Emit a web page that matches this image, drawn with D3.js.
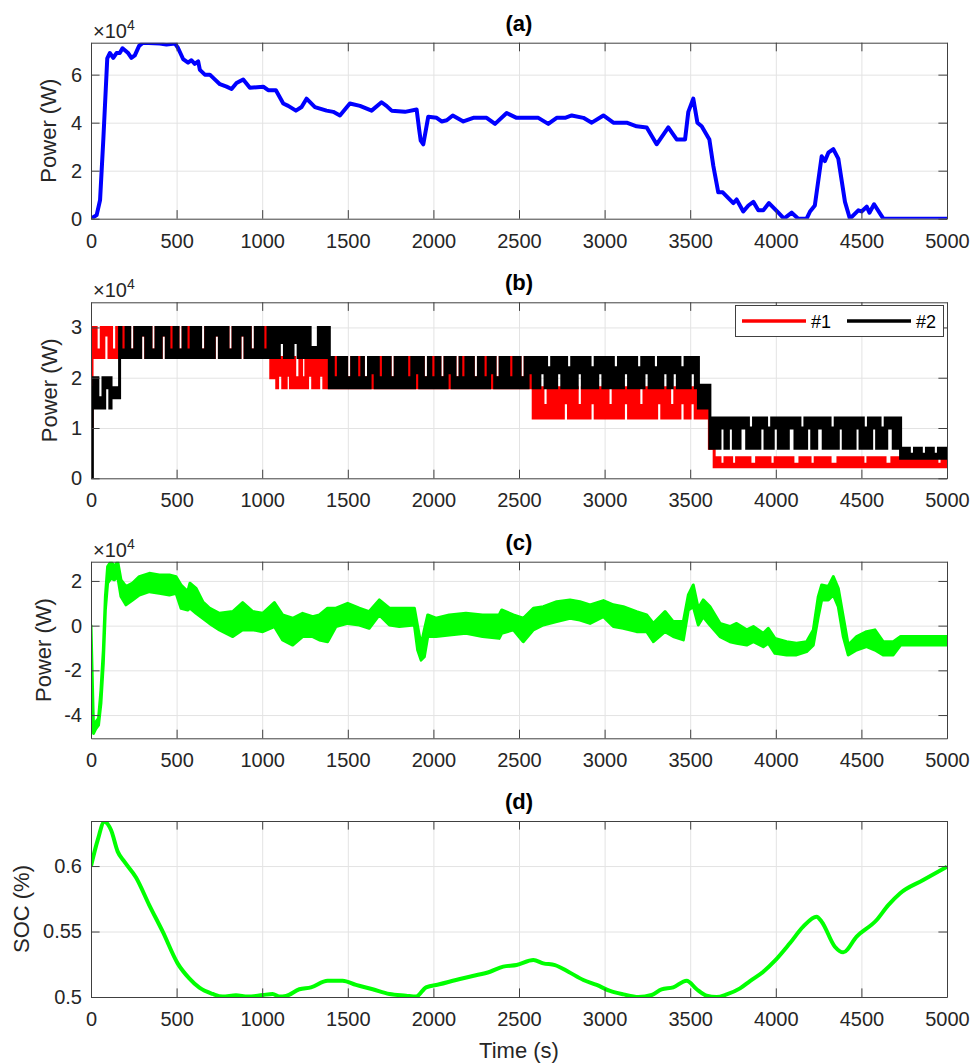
<!DOCTYPE html>
<html lang="en">
<head>
  <meta charset="UTF-8">
  <title>Power and SOC</title>
  <script src="https://cdn.jsdelivr.net/npm/d3@7"></script>
  <style>
    body { margin: 0; background: #ffffff; }
    svg { display: block; font-family: "Liberation Sans", Arial, Helvetica, sans-serif; }
    .tick text { fill: #262626; font-size: 20px; }
    .frame line, .frame path { stroke: #404040; }
    .grid line { stroke: #e3e3e3; }
    .grid path { display: none; }
    .title { font-weight: bold; font-size: 22px; fill: #000; }
    .label { font-size: 22px; fill: #262626; }
  </style>
</head>
<body>
<div class="chart"></div>
<script>
// ---- data (power in units of 1e4 W) ----
const timeTicks = [0, 500, 1000, 1500, 2000, 2500, 3000, 3500, 4000, 4500, 5000];
const ticksA = [0, 2, 4, 6];
const ticksB = [0, 1, 2, 3];
const ticksC = [-4, -2, 0, 2];
const ticksD = [0.5, 0.55, 0.6];

// (a) load power [t, P]
const loadPower = [
  [0, 0], [33, 0.15], [53, 0.78], [72, 3.3], [95, 6.68], [110, 6.9], [130, 6.7], [149, 6.9],
  [168, 6.9], [184, 7.1], [217, 6.9], [236, 6.7], [256, 6.8], [281, 7.2], [304, 7.33], [402, 7.3],
  [441, 7.25], [490, 7.3], [509, 7.1], [538, 6.65], [567, 6.5], [587, 6.6], [606, 6.45], [626, 6.55],
  [636, 6.2], [665, 6.0], [694, 6.0], [723, 5.8], [753, 5.6], [792, 5.5], [821, 5.4], [850, 5.65],
  [889, 5.8], [928, 5.45], [1006, 5.5], [1035, 5.35], [1080, 5.35], [1123, 4.8], [1152, 4.7],
  [1197, 4.5], [1230, 4.65], [1259, 5.0], [1308, 4.65], [1376, 4.5], [1415, 4.45], [1454, 4.3],
  [1512, 4.8], [1571, 4.7], [1639, 4.5], [1697, 4.85], [1726, 4.7], [1756, 4.5], [1834, 4.45],
  [1902, 4.55], [1918, 3.65], [1926, 3.25], [1941, 3.1], [1970, 4.25], [2019, 4.2], [2048, 4.05],
  [2078, 4.1], [2113, 4.3], [2175, 4.05], [2233, 4.2], [2311, 4.2], [2360, 3.95], [2428, 4.4],
  [2486, 4.2], [2613, 4.2], [2671, 3.95], [2720, 4.2], [2769, 4.2], [2808, 4.3], [2876, 4.2],
  [2925, 4.0], [2993, 4.3], [3051, 4.0], [3129, 4.0], [3187, 3.85], [3246, 3.8], [3304, 3.1],
  [3372, 3.8], [3421, 3.3], [3470, 3.3], [3489, 4.45], [3518, 5.0], [3542, 4.0], [3567, 3.85],
  [3612, 3.3], [3635, 2.2], [3664, 1.1], [3690, 1.1], [3752, 0.65], [3771, 0.8], [3810, 0.3],
  [3840, 0.55], [3869, 0.7], [3898, 0.35], [3927, 0.35], [3960, 0.65], [4015, 0.25], [4048, 0],
  [4093, 0.25], [4131, 0], [4180, 0], [4200, 0.3], [4228, 0.55], [4268, 2.6], [4287, 2.4],
  [4307, 2.75], [4336, 2.9], [4365, 2.5], [4404, 0.7], [4433, 0], [4482, 0.35], [4501, 0.3],
  [4531, 0.5], [4547, 0.25], [4574, 0.6], [4628, 0], [5000, 0]
];

// (b) switching units: levels [tStart, low, high] and holds [t0, t1, low, high]
const unit1Levels = [[0, 1.0, 1.8], [6, 2.4, 3.0], [1050, 2.0, 2.55], [1085, 1.8, 2.4],
  [2583, 1.2, 2.0], [2600, 1.2, 1.8], [3612, 0.6, 1.0], [3640, 0.23, 0.41]];
const unit1Holds = [
  [30, 60, 2.4, 2.55], [75, 105, 2.85, 3.0], [120, 150, 2.4, 2.55],
  [226, 256, 2.4, 2.55], [350, 380, 2.4, 2.55], [508, 538, 2.4, 2.55], [640, 670, 2.4, 2.55],
  [800, 830, 2.4, 2.55], [930, 960, 2.4, 2.55],
  [290, 320, 2.85, 3.0], [410, 440, 2.85, 3.0], [720, 750, 2.85, 3.0], [870, 900, 2.85, 3.0],
  [1090, 1120, 2.05, 2.4], [1140, 1165, 2.05, 2.4], [1265, 1295, 2.05, 2.4], [1330, 1360, 2.05, 2.4],
  [1190, 1220, 1.8, 2.0], [1230, 1255, 1.8, 2.0],
  [1493, 1523, 1.8, 2.0], [1591, 1621, 1.8, 2.0], [1747, 1777, 1.8, 2.0], [1941, 1971, 1.8, 2.0],
  [2038, 2068, 1.8, 2.0], [2126, 2156, 1.8, 2.0], [2233, 2263, 1.8, 2.0], [2360, 2390, 1.8, 2.0],
  [2506, 2536, 1.8, 2.0],
  [2759, 2789, 1.5, 1.8], [2915, 2945, 1.5, 1.8], [3110, 3140, 1.5, 1.8], [3304, 3334, 1.5, 1.8],
  [3440, 3470, 1.5, 1.8], [3499, 3529, 1.5, 1.8],
  [2640, 2670, 1.2, 1.45], [2840, 2870, 1.2, 1.45], [3020, 3050, 1.2, 1.45], [3200, 3230, 1.2, 1.45],
  [3380, 3410, 1.2, 1.45],
  [3674, 3703, 0.23, 0.28], [3742, 3771, 0.23, 0.28], [3849, 3888, 0.23, 0.28], [3966, 3996, 0.23, 0.28],
  [4100, 4141, 0.23, 0.28], [4200, 4230, 0.23, 0.28], [4317, 4363, 0.23, 0.28], [4509, 4538, 0.23, 0.28],
  [4638, 4678, 0.23, 0.28], [4941, 4971, 0.23, 0.28]
];
const unit2Levels = [[0, 0, 0], [8, 1.8, 1.8], [15, 1.4, 2.0], [117, 1.6, 1.8], [167, 2.4, 3.0],
  [1392, 1.8, 2.4], [3548, 1.4, 1.85], [3615, 0.6, 1.2], [4729, 0.4, 0.6]];
const unit2Holds = [
  [40, 70, 1.4, 1.6], [80, 110, 1.8, 2.0],
  [175, 205, 2.4, 2.55], [455, 485, 2.4, 2.55], [555, 585, 2.4, 2.55], [1004, 1034, 2.4, 2.55],
  [226, 256, 2.4, 2.55], [350, 380, 2.4, 2.55], [508, 538, 2.4, 2.55], [640, 670, 2.4, 2.55],
  [800, 830, 2.4, 2.55], [930, 960, 2.4, 2.55],
  [290, 320, 2.85, 3.0], [410, 440, 2.85, 3.0], [720, 750, 2.85, 3.0], [870, 900, 2.85, 3.0],
  [1100, 1130, 2.7, 3.0], [1180, 1210, 2.7, 3.0], [1280, 1328, 2.4, 2.6],
  [1493, 1523, 1.8, 2.0], [1591, 1621, 1.8, 2.0], [1747, 1777, 1.8, 2.0], [1941, 1971, 1.8, 2.0],
  [2038, 2068, 1.8, 2.0], [2126, 2156, 1.8, 2.0], [2233, 2263, 1.8, 2.0], [2360, 2390, 1.8, 2.0],
  [2506, 2536, 1.8, 2.0],
  [1415, 1445, 1.8, 2.0], [1552, 1582, 1.8, 2.0], [1678, 1708, 1.8, 2.0], [1844, 1874, 1.8, 2.0],
  [1985, 2015, 1.8, 2.0], [2160, 2190, 1.8, 2.0], [2290, 2320, 1.8, 2.0], [2440, 2470, 1.8, 2.0],
  [1630, 1660, 2.1, 2.4], [1890, 1920, 2.1, 2.4], [2080, 2110, 2.1, 2.4], [2328, 2358, 2.1, 2.4],
  [2553, 2583, 2.1, 2.4],
  [2661, 2691, 1.8, 2.2], [2778, 2808, 1.8, 2.2], [2915, 2945, 1.8, 2.2], [3051, 3081, 1.8, 2.2],
  [3187, 3217, 1.8, 2.2], [3285, 3315, 1.8, 2.2], [3440, 3470, 1.8, 2.2],
  [2622, 2652, 2.1, 2.4], [2720, 2750, 2.1, 2.4], [2840, 2870, 2.1, 2.4], [2960, 2990, 2.1, 2.4],
  [3110, 3140, 2.1, 2.4], [3230, 3260, 2.1, 2.4], [3340, 3370, 2.1, 2.4], [3395, 3425, 2.1, 2.4],
  [3500, 3530, 2.1, 2.4],
  [3674, 3703, 1.0, 1.2], [3723, 3752, 1.0, 1.2], [3791, 3830, 1.0, 1.2], [3907, 3937, 1.0, 1.2],
  [3985, 4015, 1.0, 1.2], [4073, 4112, 1.0, 1.2], [4180, 4210, 1.0, 1.2], [4239, 4277, 1.0, 1.2],
  [4365, 4394, 1.0, 1.2], [4463, 4492, 1.0, 1.2], [4560, 4589, 1.0, 1.2], [4648, 4686, 1.0, 1.2],
  [3840, 3870, 0.6, 1.0], [3946, 3976, 0.6, 1.0], [4141, 4170, 0.6, 1.0], [4317, 4347, 0.6, 1.0],
  [4511, 4541, 0.6, 1.0], [4609, 4639, 0.6, 1.0],
  [4780, 4810, 0.4, 0.48], [4850, 4880, 0.4, 0.48], [4920, 4950, 0.4, 0.48]
];

// (c) battery power envelope [t, low, high]
const batteryPower = [
  [0, 0, 0], [15, -4.82, -4.67], [29, -4.6, -4.3], [44, -4.45, -4.15], [58, -3.48, -2.88],
  [72, -1.69, -1.09], [84, 0.7, 1.3], [97, 1.9, 2.64], [117, 2.12, 2.87], [136, 2.05, 2.64],
  [156, 2.19, 2.87], [175, 1.3, 2.05], [204, 0.93, 1.75], [243, 1.15, 1.9], [282, 1.37, 2.19],
  [341, 1.52, 2.34], [399, 1.45, 2.27], [458, 1.37, 2.27], [497, 1.45, 2.19], [526, 0.78, 1.82],
  [565, 0.7, 1.52], [578, 0.78, 1.9], [614, 0.55, 1.67], [653, 0.33, 1.07], [692, 0.1, 0.78],
  [750, -0.19, 0.55], [828, -0.49, 0.63], [886, -0.19, 1.03], [945, -0.19, 0.63], [1003, -0.27, 0.55],
  [1071, -0.04, 1.03], [1119, -0.64, 0.48], [1178, -0.87, 0.33], [1236, -0.49, 0.55], [1295, -0.49, 0.4],
  [1334, -0.64, 0.48], [1382, -0.72, 0.78], [1431, -0.04, 0.78], [1499, 0.1, 1.0], [1567, 0.03, 0.78],
  [1625, -0.12, 0.63], [1684, 0.48, 1.15], [1743, 0.03, 0.78], [1801, -0.04, 0.78], [1889, 0.03, 0.78],
  [1908, -1.09, -0.04], [1928, -1.54, -0.87], [1947, -1.39, -0.19], [1967, -0.49, 0.48],
  [2015, -0.49, 0.33], [2093, -0.42, 0.48], [2190, -0.34, 0.55], [2287, -0.49, 0.48], [2384, -0.57, 0.48],
  [2399, -0.34, 0.7], [2467, -0.19, 0.48], [2525, -0.72, 0.33], [2584, -0.19, 0.78], [2642, 0.03, 0.85],
  [2720, 0.18, 1.07], [2798, 0.33, 1.15], [2856, 0.25, 1.07], [2915, 0.1, 0.93], [2993, 0.4, 1.12],
  [3051, -0.04, 0.93], [3109, -0.12, 0.85], [3187, -0.27, 0.63], [3246, -0.27, 0.48], [3285, -0.72, 0.1],
  [3353, -0.27, 0.63], [3401, -0.49, 0.18], [3460, -0.64, 0.18], [3489, 0.7, 1.37], [3518, 0.85, 1.82],
  [3547, 0.03, 0.78], [3576, 0.4, 1.15], [3615, 0.03, 0.85], [3674, -0.49, 0.1], [3732, -0.72, -0.04],
  [3771, -0.79, 0.1], [3830, -0.87, -0.19], [3869, -0.72, -0.04], [3927, -0.94, -0.34], [3956, -0.79, -0.12],
  [3995, -1.24, -0.57], [4063, -1.31, -0.72], [4121, -1.31, -0.79], [4180, -1.16, -0.72], [4219, -0.87, -0.19],
  [4248, 0.4, 1.3], [4268, 1.15, 1.82], [4307, 1.15, 1.75], [4336, 1.37, 2.19], [4365, 0.85, 1.67],
  [4394, -0.49, 0.4], [4423, -1.31, -0.87], [4472, -1.09, -0.49], [4530, -0.94, -0.27], [4579, -1.09, -0.19],
  [4627, -1.31, -0.72], [4686, -1.31, -0.72], [4729, -0.87, -0.49], [5000, -0.87, -0.49]
];

// (d) state of charge [t, SOC]
const soc = [
  [0, 0.6], [39, 0.6198], [78, 0.6338], [117, 0.6275], [156, 0.611], [195, 0.6033], [263, 0.5913],
  [341, 0.570], [419, 0.5499], [506, 0.5257], [574, 0.5142], [633, 0.5071], [711, 0.5023], [769, 0.5003],
  [847, 0.5013], [915, 0.5003], [1003, 0.5015], [1061, 0.5023], [1100, 0.5003], [1139, 0.5008],
  [1217, 0.5059], [1285, 0.5074], [1382, 0.5125], [1470, 0.5125], [1548, 0.5092], [1645, 0.5059],
  [1743, 0.5023], [1840, 0.501], [1899, 0.5003], [1957, 0.5074], [2035, 0.5097], [2132, 0.513],
  [2229, 0.516], [2331, 0.5193], [2408, 0.5232], [2486, 0.5244], [2584, 0.5282], [2642, 0.5257],
  [2710, 0.5244], [2788, 0.5193], [2876, 0.513], [2954, 0.5092], [3032, 0.5046], [3110, 0.502],
  [3197, 0.5], [3275, 0.5015], [3333, 0.5059], [3401, 0.5074], [3479, 0.5125], [3538, 0.5059],
  [3596, 0.501], [3654, 0.5], [3713, 0.502], [3791, 0.5066], [3849, 0.5122], [3927, 0.5193],
  [3995, 0.5277], [4082, 0.541], [4160, 0.5537], [4238, 0.5613], [4268, 0.5575], [4345, 0.5384],
  [4394, 0.5341], [4472, 0.5461], [4589, 0.5588], [4657, 0.5702], [4725, 0.5791], [4861, 0.5893],
  [5000, 0.5995]
];

// ---- layout ----
const width = 972, height = 1063;
const left = 91, right = 947, tickLen = 8.6;
const svg = d3.select(".chart").append("svg").attr("width", width).attr("height", height);

const x = d3.scaleLinear().domain([0, 5000]).range([left, right]);

function makePanel(id, top, bottom, domain, ticks, title, ylabel, ylabelX, exponent) {
  const y = d3.scaleLinear().domain(domain).range([bottom, top]);
  const g = svg.append("g");

  // grid
  g.append("g").attr("class", "grid").attr("transform", `translate(0,${bottom})`)
    .call(d3.axisBottom(x).tickValues(timeTicks.slice(1, -1)).tickSize(-(bottom - top)).tickFormat(""));
  g.append("g").attr("class", "grid").attr("transform", `translate(${left},0)`)
    .call(d3.axisLeft(y).tickValues(ticks.filter(v => y(v) > top + 1 && y(v) < bottom - 1))
      .tickSize(-(right - left)).tickFormat(""));

  // clip
  svg.append("clipPath").attr("id", "clip-" + id).append("rect")
    .attr("x", left).attr("y", top).attr("width", right - left).attr("height", bottom - top);
  const plot = g.append("g").attr("clip-path", `url(#clip-${id})`);

  // frame + ticks
  const fr = g.append("g").attr("class", "frame");
  fr.append("g").attr("transform", `translate(0,${bottom})`)
    .call(d3.axisBottom(x).tickValues(timeTicks).tickSize(-tickLen).tickSizeOuter(0).tickPadding(15)
      .tickFormat(d => String(d)));
  fr.append("g").attr("transform", `translate(0,${top})`)
    .call(d3.axisTop(x).tickValues(timeTicks).tickSize(-tickLen).tickSizeOuter(0).tickFormat(""));
  fr.append("g").attr("transform", `translate(${left},0)`)
    .call(d3.axisLeft(y).tickValues(ticks).tickSize(-tickLen).tickSizeOuter(0).tickPadding(9).tickFormat(d => String(d)));
  fr.append("g").attr("transform", `translate(${right},0)`)
    .call(d3.axisRight(y).tickValues(ticks).tickSize(-tickLen).tickSizeOuter(0).tickFormat(""));
  fr.selectAll(".tick line").attr("stroke", "#404040");
  fr.selectAll(".tick text").attr("font-family", null).attr("font-size", null);

  svg.append("text").attr("class", "title").attr("x", (left + right) / 2).attr("y", top - 12)
    .attr("text-anchor", "middle").text(title);
  svg.append("text").attr("class", "label")
    .attr("transform", `translate(${ylabelX},${(top + bottom) / 2}) rotate(-90)`)
    .attr("text-anchor", "middle").text(ylabel);
  if (exponent) {
    const t = svg.append("text").attr("x", 93).attr("y", top - 5).attr("fill", "#262626").attr("font-size", 20);
    t.append("tspan").text("\u00d710");
    t.append("tspan").attr("font-size", 14).attr("dy", -8).text("4");
  }
  return { y, plot };
}

// (a)
const pa = makePanel("a", 42.7, 218.7, [0, 7.33], ticksA, "(a)", "Power (W)", 55.5, true);
pa.plot.append("path").datum(loadPower)
  .attr("fill", "none").attr("stroke", "#0000ff").attr("stroke-width", 4).attr("stroke-linejoin", "round")
  .attr("d", d3.line().x(d => x(d[0])).y(d => pa.y(d[1])));

// (b)
const pb = makePanel("b", 302.3, 478.3, [0, 3.5], ticksB, "(b)", "Power (W)", 57, true);

function buildSteps(levels, holds) {
  const cuts = new Set([...levels.map(l => l[0]), ...holds.flatMap(h => [h[0], h[1]]), 5000]);
  return [...cuts].sort((a, b) => a - b).map(t => {
    const h = holds.find(h => t >= h[0] && t < h[1]);
    if (h) return { t: t, lo: h[2], hi: h[3] };
    const l = levels.filter(l => l[0] <= t).pop();
    return { t: t, lo: l[1], hi: l[2] };
  });
}
const stepArea = d3.area().curve(d3.curveStepAfter)
  .x(d => x(d.t)).y0(d => pb.y(d.lo)).y1(d => pb.y(d.hi));

[[unit1Levels, unit1Holds, "#ff0000"], [unit2Levels, unit2Holds, "#000000"]].forEach(s => {
  pb.plot.append("path").datum(buildSteps(s[0], s[1]))
    .attr("fill", s[2]).attr("stroke", s[2]).attr("stroke-width", 3)
    .attr("d", stepArea);
});

// legend
const lg = svg.append("g");
lg.append("rect").attr("x", 735.5).attr("y", 305.5).attr("width", 208).attr("height", 31)
  .attr("fill", "#fff").attr("stroke", "#404040");
[["#1", "#ff0000", 742], ["#2", "#000000", 847]].forEach(d => {
  lg.append("line").attr("x1", d[2]).attr("x2", d[2] + 64).attr("y1", 321).attr("y2", 321)
    .attr("stroke", d[1]).attr("stroke-width", 3.5);
  lg.append("text").attr("x", d[2] + 69).attr("y", 328).attr("font-size", 18).attr("fill", "#000").text(d[0]);
});

// (c)
const pc = makePanel("c", 561.7, 738.3, [-5.04, 2.86], ticksC, "(c)", "Power (W)", 50.5, true);
pc.plot.append("path").datum(batteryPower)
  .attr("fill", "#00ff00").attr("stroke", "#00ff00").attr("stroke-width", 3).attr("stroke-linejoin", "round")
  .attr("d", d3.area().x(d => x(d[0])).y0(d => pc.y(d[1])).y1(d => pc.y(d[2])));

// (d)
const pd = makePanel("d", 821, 997, [0.5, 0.6344], ticksD, "(d)", "SOC (%)", 28.7, false);
pd.plot.append("path").datum(soc)
  .attr("fill", "none").attr("stroke", "#00ff00").attr("stroke-width", 4).attr("stroke-linejoin", "round")
  .attr("d", d3.line().curve(d3.curveMonotoneX).x(d => x(d[0])).y(d => pd.y(d[1])));

svg.append("text").attr("class", "label").attr("x", (left + right) / 2).attr("y", 1058)
  .attr("text-anchor", "middle").text("Time (s)");
</script>
</body>
</html>
